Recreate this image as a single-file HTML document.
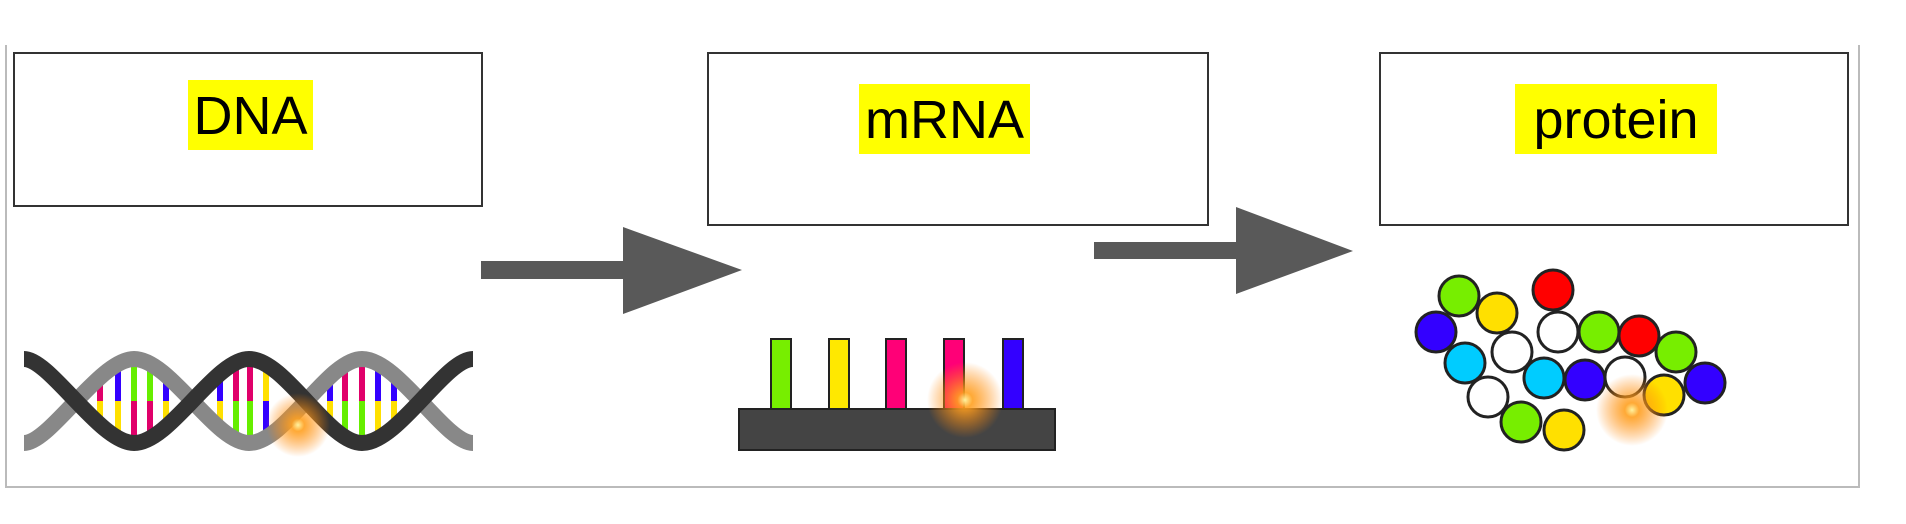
<!DOCTYPE html>
<html><head><meta charset="utf-8"><style>
body{margin:0;width:1906px;height:524px;background:#fff;position:relative;overflow:hidden;font-family:"Liberation Sans",sans-serif}
.box{position:absolute;border:2px solid #333;box-sizing:border-box;background:#fff}
.hl{position:absolute;background:#ffff00;color:#000;font-size:54px;line-height:72px;text-align:center;height:70px}
</style></head><body>
<div style="position:absolute;left:5px;top:45px;width:1855px;height:443px;border-left:2px solid #bbb;border-right:2px solid #bbb;border-bottom:2px solid #bbb;box-sizing:border-box"></div>
<div class="box" style="left:13px;top:52px;width:470px;height:155px"></div>
<div class="box" style="left:707px;top:52px;width:502px;height:174px"></div>
<div class="box" style="left:1379px;top:52px;width:470px;height:174px"></div>
<div class="hl" style="left:188px;top:80px;width:125px">DNA</div>
<div class="hl" style="left:859px;top:84px;width:171px">mRNA</div>
<div class="hl" style="left:1515px;top:84px;width:202px">protein</div>
<svg width="1906" height="524" style="position:absolute;left:0;top:0">
<defs><radialGradient id="sp"><stop offset="0" stop-color="#fff3a0"/><stop offset="0.2" stop-color="#ffa020" stop-opacity="0.9"/><stop offset="1" stop-color="#ff8000" stop-opacity="0"/></radialGradient></defs>
<polygon points="481,261 623,261 623,227 742,270 623,314 623,279 481,279" fill="#595959"/>
<polygon points="1094,242 1236,242 1236,207 1353,251 1236,294 1236,259 1094,259" fill="#595959"/>
<g stroke-width="6">
<line x1="100" y1="380" x2="100" y2="401" stroke="#e0006a"/><line x1="100" y1="401" x2="100" y2="422" stroke="#ffe000"/>
<line x1="118" y1="370" x2="118" y2="401" stroke="#3300ff"/><line x1="118" y1="401" x2="118" y2="432" stroke="#ffe000"/>
<line x1="134" y1="366" x2="134" y2="401" stroke="#66ee00"/><line x1="134" y1="401" x2="134" y2="436" stroke="#e0006a"/>
<line x1="150" y1="368" x2="150" y2="401" stroke="#66ee00"/><line x1="150" y1="401" x2="150" y2="434" stroke="#e0006a"/>
<line x1="166" y1="376" x2="166" y2="401" stroke="#3300ff"/><line x1="166" y1="401" x2="166" y2="426" stroke="#ffe000"/>
<line x1="220" y1="376" x2="220" y2="401" stroke="#3300ff"/><line x1="220" y1="401" x2="220" y2="426" stroke="#ffe000"/>
<line x1="236" y1="368" x2="236" y2="401" stroke="#e0006a"/><line x1="236" y1="401" x2="236" y2="434" stroke="#66ee00"/>
<line x1="250" y1="366" x2="250" y2="401" stroke="#e0006a"/><line x1="250" y1="401" x2="250" y2="436" stroke="#66ee00"/>
<line x1="266" y1="370" x2="266" y2="401" stroke="#ffe000"/><line x1="266" y1="401" x2="266" y2="432" stroke="#3300ff"/>
<line x1="330" y1="375" x2="330" y2="401" stroke="#3300ff"/><line x1="330" y1="401" x2="330" y2="428" stroke="#ffe000"/>
<line x1="345" y1="368" x2="345" y2="401" stroke="#e0006a"/><line x1="345" y1="401" x2="345" y2="434" stroke="#66ee00"/>
<line x1="362" y1="366" x2="362" y2="401" stroke="#e0006a"/><line x1="362" y1="401" x2="362" y2="436" stroke="#66ee00"/>
<line x1="378" y1="368" x2="378" y2="401" stroke="#3300ff"/><line x1="378" y1="401" x2="378" y2="434" stroke="#ffe000"/>
<line x1="394" y1="376" x2="394" y2="401" stroke="#3300ff"/><line x1="394" y1="401" x2="394" y2="426" stroke="#ffe000"/>
</g>
<path d="M24,443 C50,443 100,359 134,359 C170,359 215,443 249,443 C285,443 328,359 362,359 C398,359 445,443 473,443" fill="none" stroke="#888" stroke-width="16"/>
<path d="M24,359 C50,359 100,443 134,443 C170,443 215,359 249,359 C285,359 328,443 362,443 C398,443 445,359 473,359" fill="none" stroke="#333" stroke-width="16"/>
<g stroke="#222" stroke-width="2">
<rect x="771" y="339" width="20" height="72" fill="#77ee00"/>
<rect x="829" y="339" width="20" height="72" fill="#ffe800"/>
<rect x="886" y="339" width="20" height="72" fill="#ff0077"/>
<rect x="944" y="339" width="20" height="72" fill="#ff0077"/>
<rect x="1003" y="339" width="20" height="72" fill="#3300ff"/>
<rect x="739" y="409" width="316" height="41" fill="#444"/>
</g>
<g stroke="#222" stroke-width="3">
<circle cx="1459" cy="296" r="20" fill="#77ee00"/>
<circle cx="1497" cy="313" r="20" fill="#ffe000"/>
<circle cx="1553" cy="290" r="20" fill="#ff0000"/>
<circle cx="1436" cy="332" r="20" fill="#3300ff"/>
<circle cx="1558" cy="332" r="20" fill="#fff"/>
<circle cx="1599" cy="332" r="20" fill="#77ee00"/>
<circle cx="1639" cy="336" r="20" fill="#ff0000"/>
<circle cx="1676" cy="352" r="20" fill="#77ee00"/>
<circle cx="1512" cy="352" r="20" fill="#fff"/>
<circle cx="1465" cy="363" r="20" fill="#00ccff"/>
<circle cx="1625" cy="377" r="20" fill="#fff"/>
<circle cx="1544" cy="378" r="20" fill="#00ccff"/>
<circle cx="1585" cy="380" r="20" fill="#3300ff"/>
<circle cx="1705" cy="383" r="20" fill="#3300ff"/>
<circle cx="1664" cy="395" r="20" fill="#ffe000"/>
<circle cx="1488" cy="397" r="20" fill="#fff"/>
<circle cx="1521" cy="422" r="20" fill="#77ee00"/>
<circle cx="1564" cy="430" r="20" fill="#ffe000"/>
</g>
<circle cx="298" cy="425" r="32" fill="url(#sp)"/>
<circle cx="965" cy="400" r="38" fill="url(#sp)"/>
<circle cx="1632" cy="410" r="36" fill="url(#sp)"/>
</svg>
</body></html>
